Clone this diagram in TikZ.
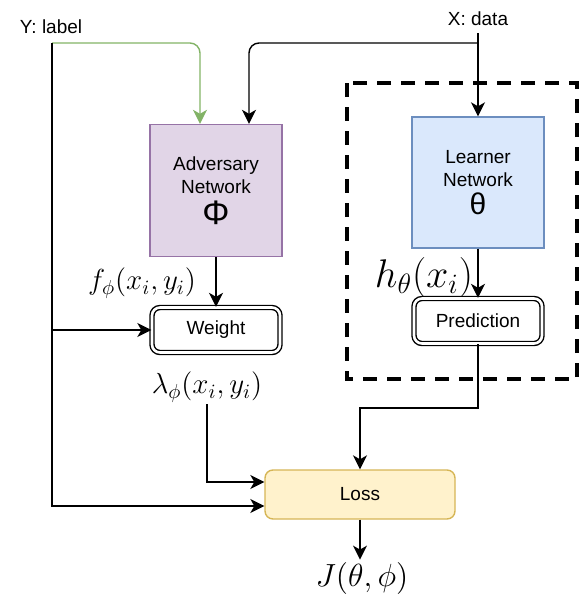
\documentclass[tikz,border=0pt]{standalone}
\usepackage{fix-cm}
\usepackage{fontspec}
\setmainfont{Liberation Sans}
\usetikzlibrary{positioning,arrows.meta}

\definecolor{advfill}{HTML}{E1D5E7}
\definecolor{advline}{HTML}{9673A6}
\definecolor{lrnfill}{HTML}{DAE8FC}
\definecolor{lrnline}{HTML}{6C8EBF}
\definecolor{lossfill}{HTML}{FFF2CC}
\definecolor{lossline}{HTML}{D6B656}
\definecolor{ygreen}{HTML}{82B366}

\begin{document}
\begin{tikzpicture}[x=0.5pt,y=-0.5pt,
  font=\fontsize{9.5}{11.5}\selectfont,
  netbox/.style={draw,line width=0.7pt,minimum width=66pt,minimum height=66pt,align=center},
  outbox/.style={draw,rounded corners=4pt,double,double distance=1.3pt,line width=0.7pt,minimum width=64pt,minimum height=22.5pt},
  link/.style={-{Stealth[length=7pt,width=7pt,inset=2pt]},line width=0.7pt},
  mathlbl/.style={inner sep=1pt}]
\useasboundingbox (0,0) rectangle (581,606);

\draw[line width=2pt,dash pattern=on 7pt off 5pt] (347,83) rectangle (577,379);

\node[netbox,fill=advfill,draw=advline] (adv) at (216,190.5) {Adversary\\Network\\[2.5pt]{\fontsize{17}{17}\selectfont Φ}};
\node[netbox,fill=lrnfill,draw=lrnline,minimum height=65.5pt] (lrn) at (478,182.5) {Learner\\Network\\[2.5pt]{\fontsize{15}{15}\selectfont θ}};
\node[outbox] (wgt) at (216,330) {Weight};
\node[outbox] (pred) at (478,321) {Prediction};
\node[draw=lossline,fill=lossfill,rounded corners=4pt,line width=0.7pt,minimum width=95pt,minimum height=24.5pt] (loss) at (360,494.5) {Loss};

\node (ylab) at (51,27) {Y: label};
\node (xlab) at (478,19) {X: data};
\node[mathlbl,font=\fontsize{14.5}{14.5}\selectfont] (flab) at (142,283) {$f_\phi(x_i,y_i)$};
\node[mathlbl,font=\fontsize{20}{20}\selectfont] (hlab) at (424,277) {$h_\theta(x_i)$};
\node[mathlbl,font=\fontsize{14.5}{14.5}\selectfont] (lam) at (207,387) {$\lambda_\phi(x_i,y_i)$};
\node[mathlbl,font=\fontsize{16}{16}\selectfont] (jlab) at (362,578) {$J(\theta,\phi)$};

\coordinate (ytop) at (52,43);
\coordinate (predturn) at (360,408);

\draw[link,color=ygreen,rounded corners=5pt] (ytop) -| ([xshift=-8pt]adv.north);
\draw[link,rounded corners=5pt] (xlab.south |- ytop) -| ([xshift=16.5pt]adv.north);
\draw[link] (xlab.south) -- (lrn.north);
\draw[link] (ytop) |- ([yshift=-5.75pt]loss.west);
\draw[link] (ytop |- wgt.west) -- (wgt.west);
\draw[link] (adv.south) -- (wgt.north);
\draw[link] (lrn.south) -- (pred.north);
\draw[link] (pred.south) |- (predturn) -- (loss.north);
\draw[link] (lam.south) |- ([yshift=6.25pt]loss.west);
\draw[link] (loss.south) -- (loss.south |- jlab.north);

\end{tikzpicture}
\end{document}
